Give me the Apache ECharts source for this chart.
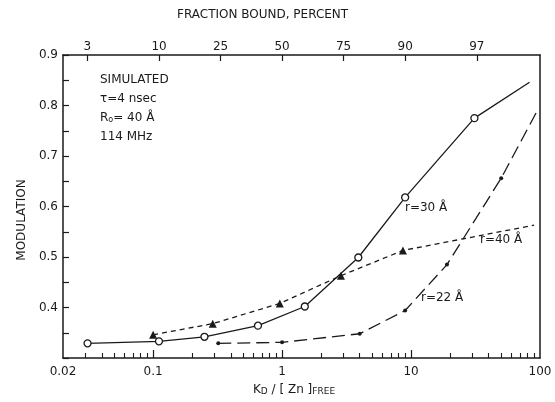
<!DOCTYPE html>
<html>
<head>
<meta charset="utf-8">
<script src="https://cdn.jsdelivr.net/npm/echarts@6/dist/echarts.min.js"></script>
<style>
  html, body { margin: 0; padding: 0; background: #fff; }
  #chart { width: 555px; height: 402px; }
</style>
</head>
<body>
<div id="chart"></div>
<script>
// K_D/[Zn]free values (x) and modulation values (y)
var r30K = [0.031, 0.111, 0.25, 0.65, 1.5, 3.9, 9, 31];
var r30M = [0.329, 0.333, 0.342, 0.364, 0.402, 0.499, 0.618, 0.775];
var r30End = [83, 0.846];

var r40K = [0.1, 0.29, 0.96, 2.86, 8.65];
var r40M = [0.346, 0.368, 0.408, 0.463, 0.513];
var r40End = [90, 0.563];

var r22K = [0.32, 1, 4, 9, 19, 50];
var r22M = [0.329, 0.331, 0.348, 0.394, 0.485, 0.656];
var r22End = [94, 0.787];

// axis ticks
var bottomLabels = [0.02, 0.1, 1, 10, 100];
var bottomMajor = [0.1, 1, 10];
var bottomMinor = [0.03, 0.04, 0.05, 0.06, 0.07, 0.08, 0.09,
  0.2, 0.3, 0.4, 0.5, 0.6, 0.7, 0.8, 0.9,
  2, 3, 4, 5, 6, 7, 8, 9,
  20, 30, 40, 50, 60, 70, 80, 90];
var topPercent = [3, 10, 25, 50, 75, 90, 97];

var X_MIN = 0.02, X_MAX = 100;
var FONT = 'DejaVu Sans';
var INK = '#1a1a1a';

function lg(v) { return Math.log10(v); }

// top axis: fraction bound f -> K = f/(100-f)
var topVals = topPercent.map(function(f) { return lg(f / (100 - f)); });

function buildData(ks, ms, end) {
  var d = [];
  for (var i = 0; i < ks.length; i++) {
    d.push([lg(ks[i]), ms[i]]);
  }
  d.push({ value: [lg(end[0]), end[1]], symbol: 'none' });
  return d;
}

function nearestIndex(v, vals) {
  var best = 0;
  for (var i = 1; i < vals.length; i++) {
    if (Math.abs(vals[i] - v) < Math.abs(vals[best] - v)) best = i;
  }
  return best;
}

var myChart = echarts.init(document.getElementById('chart'));

var option = {
  backgroundColor: '#fff',
  animation: false,
  grid: { left: 63, right: 15, top: 55, bottom: 44 },
  xAxis: [{
    type: 'value', position: 'bottom',
    min: lg(X_MIN), max: lg(X_MAX),
    axisLine: { show: true, onZero: false, lineStyle: { color: INK, width: 1.5 } },
    axisTick: { show: true, inside: true, length: 8, customValues: bottomMajor.map(lg),
      lineStyle: { color: INK, width: 1.2 } },
    axisLabel: { customValues: bottomLabels.map(lg), margin: 8,
      fontFamily: FONT, fontSize: 12, color: INK,
      formatter: function(v) { return String(bottomLabels[nearestIndex(v, bottomLabels.map(lg))]); } },
    splitLine: { show: false }
  }, {
    type: 'value', position: 'bottom',
    min: lg(X_MIN), max: lg(X_MAX),
    axisLine: { show: false },
    axisTick: { show: true, inside: true, length: 5, customValues: bottomMinor.map(lg),
      lineStyle: { color: INK, width: 1.1 } },
    axisLabel: { show: false },
    splitLine: { show: false }
  }, {
    type: 'value', position: 'top',
    min: lg(X_MIN), max: lg(X_MAX),
    axisLine: { show: true, onZero: false, lineStyle: { color: INK, width: 1.5 } },
    axisTick: { show: true, inside: true, length: 6, customValues: topVals,
      lineStyle: { color: INK, width: 1.2 } },
    axisLabel: { customValues: topVals, margin: 2,
      fontFamily: FONT, fontSize: 12, color: INK,
      formatter: function(v) { return String(topPercent[nearestIndex(v, topVals)]); } },
    splitLine: { show: false }
  }],
  yAxis: [{
    type: 'value', position: 'left',
    min: 0.3, max: 0.9, interval: 0.05,
    axisLine: { show: true, onZero: false, lineStyle: { color: INK, width: 1.5 } },
    axisTick: { show: true, inside: true, length: 6, lineStyle: { color: INK, width: 1.2 } },
    axisLabel: { margin: 5, fontFamily: FONT, fontSize: 12, color: INK,
      formatter: function(v) {
        var n = Math.round(v * 100);
        if (n % 10 !== 0 || n < 40) return '';
        return (n / 100).toFixed(1);
      } },
    splitLine: { show: false }
  }, {
    type: 'value', position: 'right',
    min: 0.3, max: 0.9,
    axisLine: { show: true, onZero: false, lineStyle: { color: INK, width: 1.5 } },
    axisTick: { show: false },
    axisLabel: { show: false },
    splitLine: { show: false }
  }],
  series: [{
    name: 'r=30', type: 'line',
    data: buildData(r30K, r30M, r30End),
    symbol: 'circle', symbolSize: 7,
    itemStyle: { color: '#fff', borderColor: INK, borderWidth: 1.3 },
    lineStyle: { color: INK, width: 1.3, type: 'solid' },
    z: 3
  }, {
    name: 'r=40', type: 'line',
    data: buildData(r40K, r40M, r40End),
    symbol: 'triangle', symbolSize: 8,
    itemStyle: { color: INK, borderColor: INK, borderWidth: 0 },
    lineStyle: { color: INK, width: 1.3, type: [5, 4] },
    z: 2
  }, {
    name: 'r=22', type: 'line',
    data: buildData(r22K, r22M, r22End),
    symbol: 'circle', symbolSize: 4,
    itemStyle: { color: INK, borderColor: INK, borderWidth: 0 },
    lineStyle: { color: INK, width: 1.3, type: [13, 6] },
    z: 2
  }],
  graphic: [{
    type: 'text', left: 177, top: 9,
    style: { text: 'FRACTION BOUND, PERCENT', fontFamily: FONT, fontSize: 12, fill: INK }
  }, {
    type: 'text', x: 22, y: 220, rotation: Math.PI / 2,
    style: { text: 'MODULATION', fontFamily: FONT, fontSize: 12, fill: INK,
      align: 'center', verticalAlign: 'middle' }
  }, {
    type: 'text', left: 253, top: 384,
    style: {
      text: '{n|K}{s|D}{n| / [ Zn ]}{s|FREE}',
      fill: INK,
      rich: {
        n: { fontFamily: FONT, fontSize: 12, fill: INK, verticalAlign: 'bottom', lineHeight: 16 },
        s: { fontFamily: FONT, fontSize: 9, fill: INK, verticalAlign: 'bottom', lineHeight: 9 }
      }
    }
  }, {
    type: 'text', left: 100, top: 74,
    style: {
      text: '{n|SIMULATED}\n{n|τ=4 nsec}\n{n|R}{s|o}{n|= 40 Å}\n{n|114 MHz}',
      fill: INK,
      rich: {
        n: { fontFamily: FONT, fontSize: 12, fill: INK, verticalAlign: 'bottom', lineHeight: 19 },
        s: { fontFamily: FONT, fontSize: 8, fill: INK, verticalAlign: 'bottom', lineHeight: 10 }
      }
    }
  }, {
    type: 'text', left: 405, top: 202,
    style: { text: 'r=30 Å', fontFamily: FONT, fontSize: 12, fill: INK }
  }, {
    type: 'text', left: 480, top: 234,
    style: { text: 'r=40 Å', fontFamily: FONT, fontSize: 12, fill: INK }
  }, {
    type: 'text', left: 421, top: 292,
    style: { text: 'r=22 Å', fontFamily: FONT, fontSize: 12, fill: INK }
  }]
};

myChart.setOption(option);
</script>
</body>
</html>
